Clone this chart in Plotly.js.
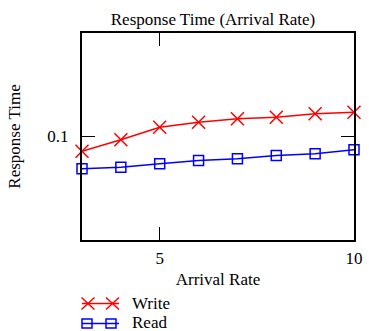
<!DOCTYPE html>
<html><head><meta charset="utf-8">
<script src="https://cdn.plot.ly/plotly-3.0.1.min.js"></script>
<style>body{margin:0;background:#fff}#c{width:369px;height:331px}</style>
</head><body><div id="c"></div>
<script>
var arrivalRate = [3, 4, 5, 6, 7, 8, 9, 10];
var writeTime = [0.0906, 0.0978, 0.1064, 0.1100, 0.1126, 0.1138, 0.1164, 0.1177];
var readTime  = [0.0806, 0.0814, 0.0833, 0.0852, 0.0861, 0.0881, 0.0891, 0.0915];
var seriesNames = ['Write', 'Read'];
var xTicks = [5, 10];
var yTicks = [0.1];

var W = 369, H = 331, M = {l: 82, r: 15, t: 33, b: 91};
var PW = W - M.l - M.r, PH = H - M.t - M.b;
function px(x) { return (x - M.l) / PW; }
function py(y) { return (M.t + PH - y) / PH; }

var RED = '#ff0000', BLUE = '#0000ff';
var font = {family: 'Liberation Serif, Times New Roman, serif', size: 17, color: '#000'};
var traces = [
  {x: arrivalRate, y: writeTime, name: seriesNames[0], mode: 'lines+markers', cliponaxis: false,
   line: {color: RED, width: 1.5},
   marker: {symbol: 'x-thin-open', size: 13, color: RED, line: {color: RED, width: 1.5}}},
  {x: arrivalRate, y: readTime, name: seriesNames[1], mode: 'lines+markers', cliponaxis: false,
   line: {color: BLUE, width: 1.5},
   marker: {symbol: 'square-open', size: 10, color: BLUE, line: {color: BLUE, width: 1.5}}}
];

// manual legend (gnuplot style: markers at both ends of the sample line)
var shapes = [], annotations = [];
function seg(x0, y0, x1, y1, c) {
  shapes.push({type: 'line', xref: 'paper', yref: 'paper', x0: px(x0), y0: py(y0), x1: px(x1), y1: py(y1),
               line: {color: c, width: 1.5}});
}
var rowW = 303.5, rowR = 323.5;
seg(82, rowW, 119, rowW, RED);
[88, 112.5].forEach(function (cx) {
  seg(cx - 6.5, rowW - 6, cx + 6.5, rowW + 6, RED);
  seg(cx - 6.5, rowW + 6, cx + 6.5, rowW - 6, RED);
});
seg(82, rowR, 119, rowR, BLUE);
[87, 111].forEach(function (cx) {
  shapes.push({type: 'rect', xref: 'paper', yref: 'paper', x0: px(cx - 5), x1: px(cx + 5), y0: py(rowR - 4.5), y1: py(rowR + 4.5),
               line: {color: BLUE, width: 1.5}, fillcolor: 'rgba(0,0,0,0)'});
});
[[seriesNames[0], rowW], [seriesNames[1], rowR - 1]].forEach(function (r) {
  annotations.push({text: r[0], xref: 'paper', yref: 'paper', x: px(131), y: py(r[1]), xanchor: 'left', yanchor: 'middle',
                    showarrow: false, font: font, borderpad: 0});
});

var layout = {
  width: W, height: H,
  margin: M,
  paper_bgcolor: '#fff', plot_bgcolor: '#fff',
  font: font,
  title: {text: 'Response Time (Arrival Rate)', font: font, xref: 'container', x: 213/W, xanchor: 'center', y: 1 - 19/H, yanchor: 'middle'},
  showlegend: false,
  shapes: shapes,
  annotations: annotations,
  xaxis: {range: [3, 10], tickvals: xTicks, ticktext: xTicks.map(String), ticks: 'inside', ticklen: 13, tickwidth: 1.5, tickcolor: '#000',
          showline: true, linewidth: 2, linecolor: '#000', mirror: 'ticks', showgrid: false, zeroline: false,
          ticklabelstandoff: 2,
          title: {text: 'Arrival Rate', font: font, standoff: 6}, tickfont: font},
  yaxis: {type: 'log', range: [Math.log10(0.05), Math.log10(0.2)], tickvals: yTicks, ticktext: ['0.1'], ticks: 'inside', ticklen: 13, tickwidth: 1.5, tickcolor: '#000',
          showline: true, linewidth: 2, linecolor: '#000', mirror: 'ticks', showgrid: false, zeroline: false,
          ticklabelstandoff: 8,
          title: {text: 'Response Time', font: font, standoff: 22}, tickfont: font}
};
Plotly.newPlot('c', traces, layout, {displayModeBar: false, staticPlot: true});
</script></body></html>
